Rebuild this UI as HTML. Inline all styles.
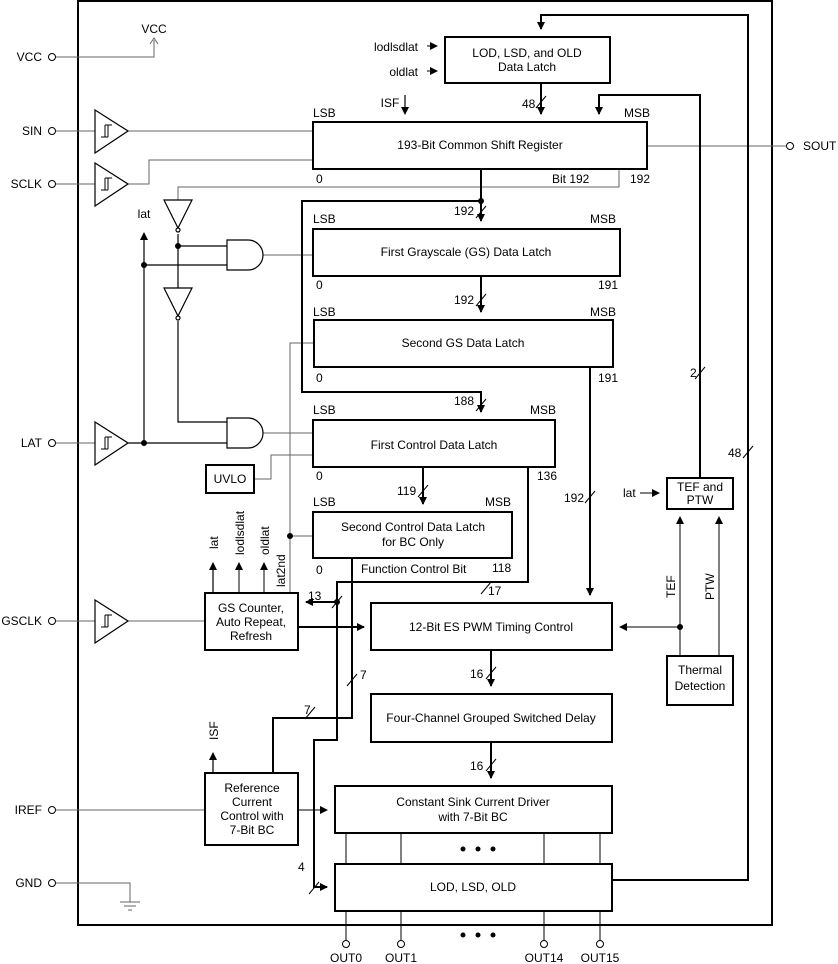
<!DOCTYPE html>
<html><head><style>body{margin:0;background:#fff}svg{display:block}text{font-family:"Liberation Sans",sans-serif;font-size:12px;fill:#000}</style></head><body>
<svg width="838" height="964" viewBox="0 0 838 964" xmlns="http://www.w3.org/2000/svg">
<defs>
<marker id="a" markerWidth="8" markerHeight="8" refX="7" refY="4" orient="auto" markerUnits="userSpaceOnUse"><path d="M0,0 L8,4 L0,8z" fill="#000"/></marker>
</defs>
<g fill="none" stroke="#000">
<rect x="78" y="1" width="694" height="924" stroke-width="2"/>
<g stroke="#666" stroke-width="1">
<path d="M56,57 H154 V40"/><path d="M150,44 L154,38 L158,44"/>
<path d="M56,131 H95 M128,131 H313"/>
<path d="M56,184 H95 M128,184 H149 V160 H313"/>
<path d="M56,443 H95"/>
<path d="M56,621 H205"/>
<path d="M56,810 H205"/>
<path d="M56,883 H130 V902 M120,902 H140 M124,906 H136 M128,910 H132"/>
<path d="M647,146 H786"/>
<path d="M619,169 V187 H178 V200"/>
<path d="M263,255 H313 M263,433 H313"/>
<path d="M290,593 V343 H314 M290,536 H313"/>
<path d="M254,479 H271 V455 H313"/>
<path d="M298,810 H327"/>
<path d="M719,656 V517 M680,656 V517 M680,627 H620 M640,493 H659 M427,46 H437 M427,71 H437"/>
<path d="M239,593 V563 M264,593 V563"/>
</g>
<g stroke-width="1.2">
<path d="M128,443 H227 M144,443 V233 M144,265 H227 M178,234 V288 M178,246 H227 M178,321 V422 H227"/>
<path d="M213,593 V563 M213,773 V753"/>
<path d="M405,95 V114"/>
</g>
<g stroke-width="1.2" fill="#fff">
<path d="M95,110 L128,131 L95,153z"/><path d="M95,163 L128,184 L95,206z"/>
<path d="M95,422 L128,443 L95,465z"/><path d="M95,600 L128,621 L95,643z"/>
<path d="M164,200 L192,200 L178,228z"/><path d="M164,288 L192,288 L178,316z"/>
<circle cx="178" cy="230" r="2"/><circle cx="178" cy="318" r="2"/>
<path d="M227,240 H248 A15,15 0 0 1 248,270 H227z"/>
<path d="M227,418 H248 A15,15 0 0 1 248,448 H227z"/>
</g>
<g stroke-width="1"><path d="M101,137 h7 M105,137 v-12 M108,137 v-12 M105,125 h7"/><path d="M101,190 h7 M105,190 v-12 M108,190 v-12 M105,178 h7"/><path d="M101,449 h7 M105,449 v-12 M108,449 v-12 M105,437 h7"/><path d="M101,627 h7 M105,627 v-12 M108,627 v-12 M105,615 h7"/></g>
<g fill="#fff" stroke-width="1"><circle cx="52" cy="57" r="3.5"/><circle cx="52" cy="131" r="3.5"/><circle cx="52" cy="184" r="3.5"/><circle cx="52" cy="443" r="3.5"/><circle cx="52" cy="621" r="3.5"/><circle cx="52" cy="810" r="3.5"/><circle cx="52" cy="883" r="3.5"/><circle cx="790" cy="146" r="3.5"/>
<circle cx="346" cy="944" r="3.5"/><circle cx="401" cy="944" r="3.5"/><circle cx="544" cy="944" r="3.5"/><circle cx="600" cy="944" r="3.5"/></g>
<g stroke-width="2" fill="#fff">
<rect x="445" y="37" width="165" height="46"/>
<rect x="313" y="122" width="334" height="47"/>
<rect x="313" y="229" width="307" height="47"/>
<rect x="314" y="320" width="299" height="47"/>
<rect x="313" y="420" width="242" height="47"/>
<rect x="313" y="512" width="199" height="46"/>
<rect x="371" y="603" width="241" height="47"/>
<rect x="371" y="694" width="241" height="48"/>
<rect x="335" y="786" width="277" height="47"/>
<rect x="335" y="864" width="277" height="47"/>
<rect x="205" y="593" width="93" height="57"/>
<rect x="205" y="773" width="93" height="72"/>
<rect x="206" y="465" width="48" height="28"/>
<rect x="667" y="478" width="66" height="31"/>
<rect x="667" y="656" width="66" height="49"/>
</g>
<g stroke-width="1"><path d="M346,833 V864 M401,833 V864 M544,833 V864 M600,833 V864 M346,911 V940 M401,911 V940 M544,911 V940 M600,911 V940"/></g>
<g stroke-width="2">
<path d="M481,169 V221" marker-end="url(#a)"/>
<path d="M481,201 H302 V392 H481 V412" marker-end="url(#a)"/>
<path d="M481,276 V312" marker-end="url(#a)"/>
<path d="M423,467 V504" marker-end="url(#a)"/>
<path d="M590,367 V595" marker-end="url(#a)"/>
<path d="M528,467 V582 H337 V740 H314 V887 H327" marker-end="url(#a)"/>
<path d="M337,602 H306" marker-end="url(#a)"/>
<path d="M352,558 V718 H273 V773"/>
<path d="M298,627 H364" marker-end="url(#a)"/>
<path d="M491,650 V686" marker-end="url(#a)"/>
<path d="M491,742 V778" marker-end="url(#a)"/>
<path d="M612,880 H748 V15 H541 V29" marker-end="url(#a)"/>
<path d="M541,83 V114" marker-end="url(#a)"/>
<path d="M700,478 V95 H599 V114" marker-end="url(#a)"/>
</g>
<g stroke-width="1">
<path d="M144,443 V233" marker-end="url(#a)"/>
<path d="M213,593 V563" marker-end="url(#a)"/><path d="M239,593 V563" marker-end="url(#a)"/><path d="M264,593 V563" marker-end="url(#a)"/>
<path d="M213,773 V753" marker-end="url(#a)"/>
<path d="M405,95 V114" marker-end="url(#a)"/>
<path d="M427,46 H437" marker-end="url(#a)"/><path d="M427,71 H437" marker-end="url(#a)"/>
<path d="M640,493 H659" marker-end="url(#a)"/>
<path d="M680,656 V517" marker-end="url(#a)"/><path d="M719,656 V517" marker-end="url(#a)"/>
<path d="M680,627 H620" marker-end="url(#a)"/>
<path d="M298,810 H327" marker-end="url(#a)"/>
<path d="M476,218 L486,206 M476,306 L486,294 M476,411 L486,399 M418,497 L428,485 M585,503 L595,491 M481,594 L491,582 M332,608 L342,596 M347,686 L357,674 M305,719 L315,707 M309,894 L319,882 M486,679 L496,667 M486,771 L496,759 M536,108 L546,96 M695,379 L705,367 M743,458 L753,446"/>
</g>
</g>
<g fill="#000"><circle cx="481" cy="201" r="3"/><circle cx="178" cy="246" r="3"/><circle cx="144" cy="265" r="3"/><circle cx="144" cy="443" r="3"/><circle cx="290" cy="536" r="3"/><circle cx="337" cy="602" r="3"/><circle cx="680" cy="627" r="3"/>
<circle cx="463" cy="849" r="2.5"/><circle cx="478" cy="849" r="2.5"/><circle cx="493" cy="849" r="2.5"/><circle cx="463" cy="935" r="2.5"/><circle cx="478" cy="935" r="2.5"/><circle cx="493" cy="935" r="2.5"/></g>
<g>
<text x="42" y="61" text-anchor="end">VCC</text><text x="42" y="135" text-anchor="end">SIN</text><text x="42" y="188" text-anchor="end">SCLK</text><text x="42" y="447" text-anchor="end">LAT</text><text x="42" y="625" text-anchor="end">GSCLK</text><text x="42" y="814" text-anchor="end">IREF</text><text x="42" y="887" text-anchor="end">GND</text>
<text x="803" y="150">SOUT</text><text x="154" y="33" text-anchor="middle">VCC</text>
<text x="144" y="218" text-anchor="middle">lat</text>
<text x="418" y="51" text-anchor="end" fill="#444">lodlsdlat</text><text x="418" y="76" text-anchor="end" fill="#444">oldlat</text>
<text x="527" y="57" text-anchor="middle">LOD, LSD, and OLD</text><text x="527" y="71" text-anchor="middle">Data Latch</text>
<text x="390" y="107" text-anchor="middle">ISF</text><text x="522" y="108">48</text>
<text x="313" y="117">LSB</text><text x="624" y="117">MSB</text>
<text x="480" y="149" text-anchor="middle">193-Bit Common Shift Register</text>
<text x="316" y="183">0</text><text x="552" y="183">Bit 192</text><text x="630" y="183">192</text>
<text x="454" y="215">192</text><text x="313" y="223">LSB</text><text x="590" y="223">MSB</text>
<text x="466" y="256" text-anchor="middle">First Grayscale (GS) Data Latch</text>
<text x="316" y="289">0</text><text x="598" y="289">191</text>
<text x="454" y="304">192</text><text x="313" y="316">LSB</text><text x="590" y="316">MSB</text>
<text x="463" y="347" text-anchor="middle">Second GS Data Latch</text>
<text x="316" y="382">0</text><text x="598" y="382">191</text>
<text x="454" y="405">188</text><text x="313" y="414">LSB</text><text x="530" y="414">MSB</text>
<text x="434" y="449" text-anchor="middle">First Control Data Latch</text>
<text x="316" y="480">0</text><text x="537" y="480">136</text>
<text x="230" y="483" text-anchor="middle">UVLO</text>
<text x="397" y="495">119</text><text x="313" y="506">LSB</text><text x="485" y="506">MSB</text>
<text x="413" y="531" text-anchor="middle">Second Control Data Latch</text><text x="413" y="546" text-anchor="middle">for BC Only</text>
<text x="316" y="574">0</text><text x="361" y="573">Function Control Bit</text><text x="492" y="572">118</text><text x="488" y="595">17</text>
<text x="564" y="502">192</text><text x="623" y="497" fill="#444">lat</text>
<text x="700" y="491" text-anchor="middle">TEF and</text><text x="700" y="504" text-anchor="middle">PTW</text>
<text x="690" y="377">2</text><text x="728" y="457">48</text>
<text x="308" y="600">13</text>
<text x="251" y="612" text-anchor="middle">GS Counter,</text><text x="251" y="626" text-anchor="middle">Auto Repeat,</text><text x="251" y="640" text-anchor="middle">Refresh</text>
<text x="491" y="631" text-anchor="middle">12-Bit ES PWM Timing Control</text>
<text x="700" y="674" text-anchor="middle">Thermal</text><text x="700" y="690" text-anchor="middle">Detection</text>
<text x="360" y="679">7</text><text x="304" y="714">7</text>
<text x="470" y="678">16</text><text x="470" y="770">16</text>
<text x="491" y="722" text-anchor="middle">Four-Channel Grouped Switched Delay</text>
<text x="252" y="792" text-anchor="middle">Reference</text><text x="252" y="806" text-anchor="middle">Current</text><text x="252" y="820" text-anchor="middle">Control with</text><text x="252" y="834" text-anchor="middle">7-Bit BC</text>
<text x="473" y="806" text-anchor="middle">Constant Sink Current Driver</text><text x="473" y="821" text-anchor="middle">with 7-Bit BC</text>
<text x="298" y="871">4</text>
<text x="473" y="891" text-anchor="middle">LOD, LSD, OLD</text>
<text x="346" y="962" text-anchor="middle">OUT0</text><text x="401" y="962" text-anchor="middle">OUT1</text><text x="544" y="962" text-anchor="middle">OUT14</text><text x="600" y="962" text-anchor="middle">OUT15</text>
<text transform="translate(218,549) rotate(-90)">lat</text>
<text transform="translate(244,555) rotate(-90)">lodlsdlat</text>
<text transform="translate(269,555) rotate(-90)">oldlat</text>
<text transform="translate(285,587) rotate(-90)">lat2nd</text>
<text transform="translate(218,740) rotate(-90)">ISF</text>
<text transform="translate(675,598) rotate(-90)">TEF</text>
<text transform="translate(714,600) rotate(-90)">PTW</text>
</g>
</svg>
</body></html>
